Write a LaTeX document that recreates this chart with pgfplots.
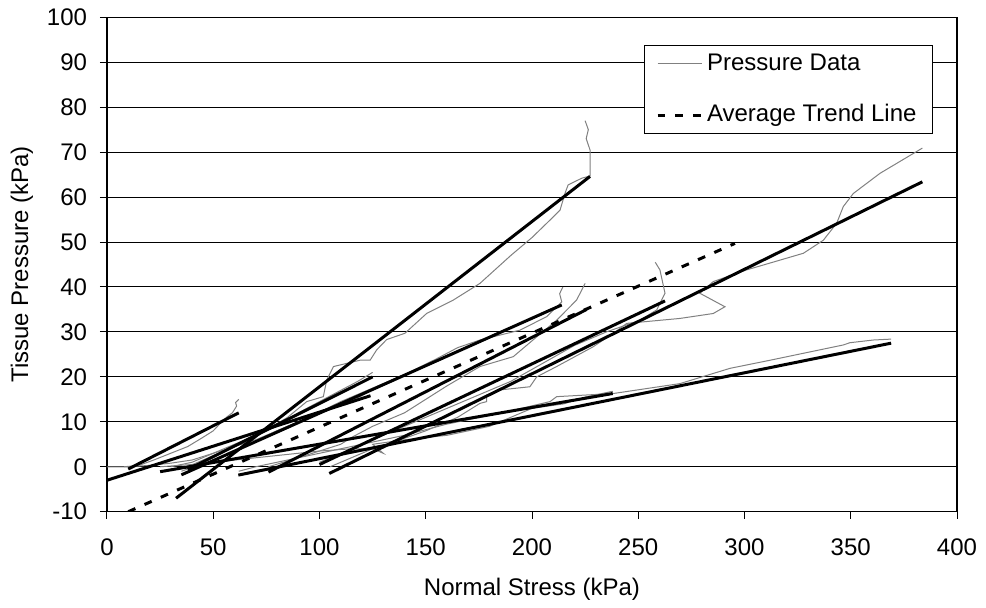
\documentclass[border=0pt]{standalone}
\usepackage{fontspec}
\setmainfont{Liberation Sans}
\usepackage{pgfplots}
\pgfplotsset{compat=1.18}
\definecolor{datagray}{RGB}{128,128,128}
\begin{document}
\fontsize{12}{14}\selectfont
\begin{tikzpicture}
\useasboundingbox (-53.5pt,-47.65pt) rectangle (439.5pt,255.85pt);
\begin{axis}[
 at={(0pt,0pt)}, anchor=south west,
 scale only axis, width=425pt, height=247.2pt,
 xmin=0, xmax=400, ymin=-10, ymax=100,
 xtick={0,50,...,400}, ytick={-10,0,...,100},
 ymajorgrids, grid style={black, line width=0.5pt},
 axis line style={line width=0.6pt},
 tick align=outside, xtick pos=bottom, ytick pos=left,
 major tick length=3.5pt, tick style={black, line width=0.5pt},
 /pgf/number format/assume math mode=true,
 ticklabel style={font=\fontsize{12}{14}\selectfont},
 yticklabel style={anchor=east, inner sep=0pt, xshift=-6.3pt},
 xticklabel style={anchor=north, inner sep=0pt, yshift=-9.7pt},
 xlabel={Normal Stress (kPa)}, ylabel={Tissue Pressure (kPa)},
 label style={font=\fontsize{12}{14}\selectfont},
 xlabel style={at={(axis description cs:0.5,-0.1578)}, anchor=center},
 ylabel style={at={(axis description cs:-0.1,0.5)}, anchor=center},
 legend style={at={(axis description cs:0.9718,0.944)}, anchor=north east,
   draw=black, line width=0.5pt, fill=white, font=\fontsize{12}{14}\selectfont,
   row sep=11.5pt, inner xsep=6pt, inner ysep=2pt},
 legend cell align=left,
 legend image code/.code={\draw[#1] (0pt,0pt) -- (22pt,0pt);},
]
% gray pressure data
\addplot[datagray, line width=0.5pt] coordinates {(8,0)(15,0.3)(22,1.5)(30,3)(38,4.5)(45,6.5)(50,8)(55,10.5)(57,11.3)(59,12)(61,13.5)(60.5,14.3)(62,15)};
\addlegendentry{Pressure Data}
\addplot[datagray, line width=0.5pt, forget plot] coordinates {(30,0)(40,1)(50,3)(60,5)(70,7)(78,9)(85,11)(94,14.5)(101.8,15.6)(103.4,19.3)(106.6,22.3)(112.8,23)(119,23.7)(123.8,23.7)(126.9,26)(131.6,28.3)(140.2,29.7)(150.4,34.1)(163,37.1)(175.5,40.8)(190,47)(200,51)(208.5,54.9)(213.2,57.1)(215.5,60.8)(217,62.7)(223.4,64.2)(227.3,64.7)(227.3,70.5)(225.5,73)(226.5,75)(225,77)};
\addplot[datagray, line width=0.5pt, forget plot] coordinates {(105,0)(115,2)(125,4)(135,5.5)(150,8)(165,11)(175.5,14.1)(178.7,14.5)(178.7,16)(185,17.1)(199,17.8)(202.2,20)(211.6,22.3)(228.8,26.7)(238.3,29.7)(244.6,31.9)(269.6,33)(285.3,34.1)(290.8,35.6)(279,38.6)(285.3,41.2)(301,43.8)(327.7,47.5)(337.1,50.4)(343.4,54.2)(346.5,57.9)(351.2,60.8)(363.8,65.3)(383.7,70.9)};
\addplot[datagray, line width=0.5pt, forget plot] coordinates {(62,-1)(70,0)(80,1)(100,3)(120,5)(140,7)(160,9.5)(185,11.9)(208.5,14.5)(211.6,15.6)(238.3,16.3)(269.6,18.5)(293.2,21.9)(312,23.7)(346.5,27.1)(349.6,27.6)(360.6,28.2)(369,28.4)};
\addplot[datagray, line width=0.5pt, forget plot] coordinates {(35,-1)(50,1.5)(65,4.5)(80,8)(95,11)(110,14.5)(125,17.5)(140,20.5)(155,24)(165,26.5)(175.5,28.2)(194.4,30.4)(206.9,33.4)(214,36.7)(213,38.5)(214.5,40)};
\addplot[datagray, line width=0.5pt, forget plot] coordinates {(76,0)(90,2)(100,3.5)(110,5)(115,6.5)(125,9)(140,12)(150,15)(160,18)(175.5,22.3)(191.2,24.5)(202.2,28.9)(211.6,32.6)(221,37.1)(225,40.8)};
\addplot[datagray, line width=0.5pt, forget plot] coordinates {(100,1)(115,4)(130,7)(145,10)(160,13)(175,16)(190,19)(205,23)(220,27)(235,30)(250.8,32.6)(258.7,34.9)(262.6,38.6)(260.2,43.8)(258,45.5)};
\addplot[datagray, line width=0.5pt, forget plot] coordinates {(0,0)(10,0)(20,0.3)(30,0.8)(40,1.5)(50,3)(60,4.5)(70,6)(80,8)(90,10)(100,12)(110,14)(117,15)(124,17)};
\addplot[datagray, line width=0.5pt, forget plot] coordinates {(38,0)(50,2.5)(60,4.5)(70,7)(80,9)(90,12)(100,14.5)(110,17)(118,19)(125,21)};
\addplot[datagray, line width=0.5pt, forget plot] coordinates {(25,0)(40,0.5)(60,1.5)(80,2.5)(100,3.5)(115,4)(125,4)(130,3)(125,5)(140,6)(160,7)(180,9)(200,13)(215,14)(225,15.5)(238,16.8)};
% fitted lines
\addplot[black, line width=1.5pt, forget plot] coordinates {(10,-0.5)(62,12)};
\addplot[black, line width=1.5pt, forget plot] coordinates {(0,-3)(124,15.8)};
\addplot[black, line width=1.5pt, forget plot] coordinates {(38,-0.6)(125,20)};
\addplot[black, line width=1.5pt, forget plot] coordinates {(32.5,-7)(227.3,64.6)};
\addplot[black, line width=1.5pt, forget plot] coordinates {(35,-1.8)(214,36)};
\addplot[black, line width=1.5pt, forget plot] coordinates {(76,-1.2)(225.7,35)};
\addplot[black, line width=1.5pt, forget plot] coordinates {(100,0.5)(262.6,36.9)};
\addplot[black, line width=1.5pt, forget plot] coordinates {(104.6,-1.5)(383.7,63.4)};
\addplot[black, line width=1.5pt, forget plot] coordinates {(61.8,-1.85)(369,27.5)};
\addplot[black, line width=1.5pt, forget plot] coordinates {(25,-1.1)(238,16.3)};
% average trend line
\addplot[black, line width=1.5pt, dash pattern=on 3.9pt off 5pt] coordinates {(10,-10)(295.5,49.7)};
\addlegendentry{Average Trend Line}
\end{axis}
\end{tikzpicture}
\end{document}
